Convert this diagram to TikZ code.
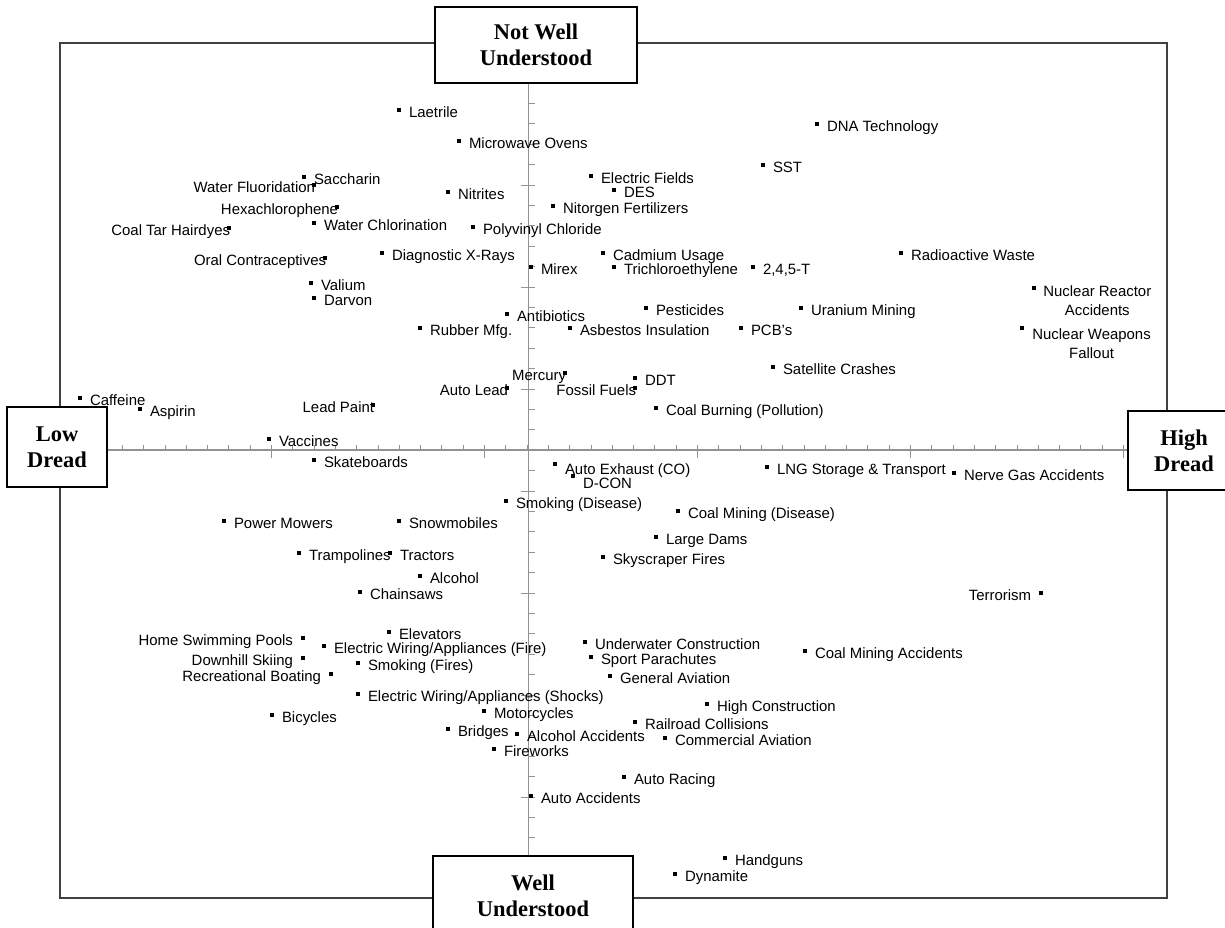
\documentclass[tikz,border=0pt]{standalone}
\usepackage{fontspec}
\setmainfont{Liberation Sans}
\newfontfamily\dreadfont{Liberation Serif}
\usetikzlibrary{positioning}
\newcommand{\riskfont}{\fontsize{8.5}{10.8}\selectfont}

\tikzset{
  dot/.style={fill=black,inner sep=0pt,minimum size=2.6pt},
  lab/.style={font=\riskfont,inner sep=0pt,text height=1.33ex,text depth=0pt,yshift=-0.7pt},
  lab2/.style={font=\riskfont,inner sep=0pt,align=center},
  back/.style={xshift=6.3pt},
  dread/.style={draw=black,line width=1.1pt,fill=white,align=center,inner sep=0pt,
    font=\dreadfont\bfseries\fontsize{12.8}{14.8}\selectfont},
  frame/.style={draw=black!75,line width=0.85pt},
  axis/.style={draw=gray!85,line width=0.6pt},
  tick/.style={draw=gray!85,line width=0.5pt},
}

\begin{document}
\begin{tikzpicture}[x=0.02cm,y=-0.02cm,label distance=4pt]
       \useasboundingbox (0,0) rectangle (1225,928);
       \clip (0,0) rectangle (1225,928);

       % frame and axes
       \draw[frame] (60,43) rectangle (1167,898);
       \coordinate (o) at (528.5,450);
       \foreach \k in {3,...,50} \draw[tick] (58.5+21.3*\k,450) -- (58.5+21.3*\k,445);
       \foreach \k in {10,20,...,50} \draw[tick] (58.5+21.3*\k,445) -- (58.5+21.3*\k,458);
       \foreach \k in {-19,...,17} \draw[tick] (528.5,491+20.4*\k) -- (534.5,491+20.4*\k);
       \foreach \k in {-15,-10,...,15} \draw[tick] (521,491+20.4*\k) -- (534.5,491+20.4*\k);

       \node[dread,minimum width=4.04cm,minimum height=1.52cm] (notwell) at (536,45) {Not Well\\Understood};
       \node[dread,minimum width=4cm,minimum height=1.6cm] (well) at (533,896) {Well\\Understood};
       \node[dread,minimum width=2cm,minimum height=1.6cm] (lowdread) at (57,447) {Low\\Dread};
       \node[dread,minimum width=2.24cm,minimum height=1.58cm] (highdread) at (1184,450.5) {High\\Dread};

       \draw[axis] (o |- notwell.south) -- (o |- well.north);
       \draw[axis] (o -| lowdread.east) -- (o -| highdread.west);

       % not well understood, low dread
       \node[dot,label={[lab]right:Laetrile}] (laetrile) at (399,110) {};
       \node[dot,label={[lab]right:Microwave Ovens}] (microwave) at (459,141) {};
       \node[dot,label={[lab]right:Saccharin}] (saccharin) at (304,177) {};
       \node[dot,label={[lab,back]left:Water Fluoridation}] (fluoridation) at (314,185) {};
       \node[dot,label={[lab]right:Nitrites}] (nitrites) at (448,192) {};
       \node[dot,label={[lab,back]left:Hexachlorophene}] (hexa) at (337,207) {};
       \node[dot,label={[lab]right:Water Chlorination}] (chlorination) at (314,223) {};
       \node[dot,label={[lab,back]left:Coal Tar Hairdyes}] (coaltar) at (229,228) {};
       \node[dot,label={[lab]right:Polyvinyl Chloride}] (polyvinyl) at (473,227) {};
       \node[dot,label={[lab,back]left:Oral Contraceptives}] (oral) at (325,258) {};
       \node[dot,label={[lab]right:Diagnostic X-Rays}] (xrays) at (382,253) {};
       \node[dot,label={[lab]right:Valium}] (valium) at (311,283) {};
       \node[dot,label={[lab]right:Darvon}] (darvon) at (314,298) {};
       \node[dot,label={[lab]right:Antibiotics}] (antibiotics) at (507,314) {};
       \node[dot,label={[lab]right:Rubber Mfg.}] (rubber) at (420,328) {};
       \node[dot,label={[lab,back]left:Auto Lead}] (autolead) at (507,388) {};
       \node[dot,label={[lab,back]left:Lead Paint}] (leadpaint) at (373,405) {};
       \node[dot,label={[lab]right:Caffeine}] (caffeine) at (80,398) {};
       \node[dot,label={[lab]right:Aspirin}] (aspirin) at (140,409) {};
       \node[dot,label={[lab]right:Vaccines}] (vaccines) at (269,439) {};

       % not well understood, high dread
       \node[dot,label={[lab]right:DNA Technology}] (dna) at (817,124) {};
       \node[dot,label={[lab]right:SST}] (sst) at (763,165) {};
       \node[dot,label={[lab]right:Electric Fields}] (efields) at (591,176) {};
       \node[dot,label={[lab]right:DES}] (des) at (614,190) {};
       \node[dot,label={[lab]right:Nitorgen Fertilizers}] (nitrogen) at (553,206) {};
       \node[dot,label={[lab]right:Cadmium Usage}] (cadmium) at (603,253) {};
       \node[dot,label={[lab]right:Mirex}] (mirex) at (531,267) {};
       \node[dot,label={[lab]right:Trichloroethylene}] (trichlor) at (614,267) {};
       \node[dot,label={[lab]right:{2,4,5-T}}] (t245) at (753,267) {};
       \node[dot,label={[lab]right:Radioactive Waste}] (radwaste) at (901,253) {};
       \node[dot] (reactor) at (1034,288) {};
       \node[lab2,anchor=north west] (reactor-t) at ([shift={(9,-3)}]reactor.center) {Nuclear Reactor\\Accidents};
       \node[dot] (weapons) at (1022,328) {};
       \node[lab2,anchor=north west] (weapons-t) at ([shift={(10,0)}]weapons.center) {Nuclear Weapons\\Fallout};
       \node[dot,label={[lab]right:Pesticides}] (pesticides) at (646,308) {};
       \node[dot,label={[lab]right:Uranium Mining}] (uranium) at (801,308) {};
       \node[dot,label={[lab]right:Asbestos Insulation}] (asbestos) at (570,328) {};
       \node[dot,label={[lab]right:PCB's}] (pcb) at (741,328) {};
       \node[dot,label={[lab]right:Satellite Crashes}] (satellite) at (773,367) {};
       \node[dot,label={[lab,back]left:Mercury}] (mercury) at (565,373) {};
       \node[dot,label={[lab]right:DDT}] (ddt) at (635,378) {};
       \node[dot,label={[lab,back]left:Fossil Fuels}] (fossil) at (635,388) {};
       \node[dot,label={[lab]right:Coal Burning (Pollution)}] (coalburn) at (656,408) {};

       % well understood, low dread
       \node[dot,label={[lab]right:Skateboards}] (skate) at (314,460) {};
       \node[dot,label={[lab]right:Smoking (Disease)}] (smokedis) at (506,501) {};
       \node[dot,label={[lab]right:Power Mowers}] (mowers) at (224,521) {};
       \node[dot,label={[lab]right:Snowmobiles}] (snowmob) at (399,521) {};
       \node[dot,label={[lab]right:Trampolines}] (trampolines) at (299,553) {};
       \node[dot,label={[lab]right:Tractors}] (tractors) at (390,553) {};
       \node[dot,label={[lab]right:Alcohol}] (alcohol) at (420,576) {};
       \node[dot,label={[lab]right:Chainsaws}] (chainsaws) at (360,592) {};
       \node[dot,label={[lab]right:Elevators}] (elevators) at (389,632) {};
       \node[dot,label={[lab]left:Home Swimming Pools}] (swimming) at (303,638) {};
       \node[dot,label={[lab]right:Electric Wiring/Appliances (Fire)}] (wirefire) at (324,646) {};
       \node[dot,label={[lab]left:Downhill Skiing}] (skiing) at (303,658) {};
       \node[dot,label={[lab]right:Smoking (Fires)}] (smokefire) at (358,663) {};
       \node[dot,label={[lab]left:Recreational Boating}] (boating) at (331,674) {};
       \node[dot,label={[lab]right:Electric Wiring/Appliances (Shocks)}] (wireshock) at (358,694) {};
       \node[dot,label={[lab]right:Bicycles}] (bicycles) at (272,715) {};
       \node[dot,label={[lab]right:Motorcycles}] (motorcycles) at (484,711) {};
       \node[dot,label={[lab]right:Bridges}] (bridges) at (448,729) {};
       \node[dot,label={[lab]right:Alcohol Accidents}] (alcacc) at (517,734) {};
       \node[dot,label={[lab]right:Fireworks}] (fireworks) at (494,749) {};

       % well understood, high dread
       \node[dot,label={[lab,yshift=-2pt]right:Auto Exhaust (CO)}] (exhaust) at (555,464) {};
       \node[dot,label={[lab,yshift=-3pt]right:D-CON}] (dcon) at (573,476) {};
       \node[dot,label={[lab]right:LNG Storage \& Transport}] (lng) at (767,467) {};
       \node[dot,label={[lab]right:Nerve Gas Accidents}] (nervegas) at (954,473) {};
       \node[dot,label={[lab]right:Coal Mining (Disease)}] (coaldis) at (678,511) {};
       \node[dot,label={[lab]right:Large Dams}] (dams) at (656,537) {};
       \node[dot,label={[lab]right:Skyscraper Fires}] (skyscraper) at (603,557) {};
       \node[dot,label={[lab]left:Terrorism}] (terrorism) at (1041,593) {};
       \node[dot,label={[lab]right:Underwater Construction}] (underwater) at (585,642) {};
       \node[dot,label={[lab]right:Sport Parachutes}] (parachutes) at (591,657) {};
       \node[dot,label={[lab]right:Coal Mining Accidents}] (coalacc) at (805,651) {};
       \node[dot,label={[lab]right:General Aviation}] (genav) at (610,676) {};
       \node[dot,label={[lab]right:High Construction}] (highcon) at (707,704) {};
       \node[dot,label={[lab]right:Railroad Collisions}] (railroad) at (635,722) {};
       \node[dot,label={[lab]right:Commercial Aviation}] (comav) at (665,738) {};
       \node[dot,label={[lab]right:Auto Racing}] (autoracing) at (624,777) {};
       \node[dot,label={[lab]right:Auto Accidents}] (autoacc) at (531,796) {};
       \node[dot,label={[lab]right:Handguns}] (handguns) at (725,858) {};
       \node[dot,label={[lab]right:Dynamite}] (dynamite) at (675,874) {};
      \end{tikzpicture}
\end{document}
